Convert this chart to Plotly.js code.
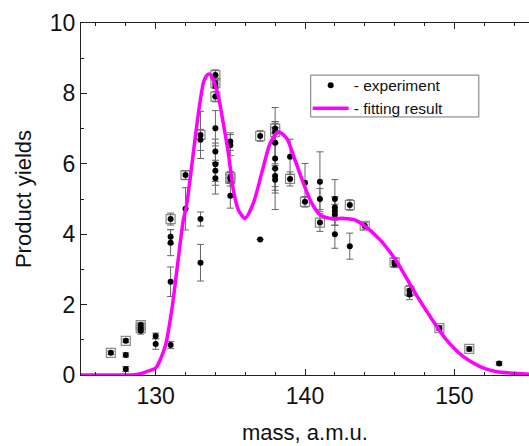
<!DOCTYPE html>
<html>
<head>
<meta charset="utf-8">
<script src="https://cdn.plot.ly/plotly-3.0.1.min.js"></script>
<style>html,body{margin:0;padding:0;background:#fff;}#chart{width:529px;height:446px;}</style>
</head>
<body>
<div id="chart"></div>
<script>
// experimental points: mass, yield, error
const expMass = [127,128,128,128,129,129,129,130,130,131,131,131,131,131,132,132,133,133,133,133,
  134,134,134,134,134,134,134,134,134,135,135,135,135,135,137,137,138,138,138,138,138,138,138,
  139,139,140,140,141,141,141,142,142,142,142,142,143,143,144,146,146,147,147,149,151,153];
const expYield = [0.63,0.97,0.57,0.17,1.42,1.33,1.26,1.11,0.88,4.43,3.93,3.76,2.65,0.85,5.68,4.72,6.82,6.68,4.43,3.19,
  8.52,8.29,8.21,7.91,7.01,6.35,5.99,5.80,5.59,6.63,6.53,5.62,5.57,5.09,6.79,3.85,7.0,6.9,6.6,6.15,5.87,5.65,5.55,
  6.2,5.57,5.46,4.92,5.49,5.0,4.33,5.0,4.76,4.66,4.55,4.0,4.83,3.66,4.24,3.2,3.15,2.39,2.29,1.33,0.74,0.33];
const expErr = [0.05,0.05,0.06,0.07,0.08,0.08,0.1,0.08,0.15,0.17,0.2,0.37,0.42,0.1,0.12,0.6,0.67,0.3,0.2,0.52,
  0.15,0.15,0.3,0.15,0.5,0.35,0.6,0.3,0.45,0.25,0.3,0.15,0.2,0.35,0.15,0,0.15,0.3,0.6,1.45,0.7,0.3,0.3,
  0.5,0.2,0.55,0.15,0.85,0.3,0.25,0.55,0.3,0.4,0.3,0.4,0.15,0.37,0.1,0.12,0.1,0.15,0.15,0.07,0.06,0.05];
// points drawn with an open square around them
const boxMass = [127,128,129,129,131,132,133,134,134,134,135,135,137,138,138,139,140,141,143,144,146,147,149,151];
const boxYield = [0.63,0.97,1.42,1.33,4.43,5.68,6.82,8.52,8.29,7.91,5.62,5.57,6.79,7.0,6.9,5.57,4.92,4.33,4.83,4.24,3.2,2.39,1.33,0.74];
// fitting curve
const fitMass = [125,127,128,128.6,129.0,129.4,130.0,130.63,131.08,131.45,131.85,132.08,132.52,132.86,133.19,133.4,133.6,133.86,
  134.2,134.53,134.87,135.2,135.54,135.98,136.54,137.1,137.66,138.21,138.78,139.33,139.89,140.45,141.01,141.68,142.57,
  143.24,143.91,145.03,146.15,147.26,148.38,149.49,150.61,151.72,152.84,153.96,155];
const fitYield = [0,0,0,0.01,0.04,0.1,0.2,0.8,1.85,3.08,4.4,4.85,6.3,7.43,8.29,8.5,8.55,8.38,
  7.91,7.15,6.3,5.26,4.69,4.45,4.88,5.73,6.58,6.91,6.72,6.11,5.45,4.88,4.55,4.45,4.45,
  4.42,4.26,3.84,3.22,2.41,1.66,0.99,0.52,0.24,0.09,0.05,0.02];

const FONT = 'Arial, Liberation Sans, sans-serif';
const traces = [
  {x: boxMass, y: boxYield, type:'scatter', mode:'markers', showlegend:false, hoverinfo:'skip',
   marker:{symbol:'square-open', size:9, color:'#8a8a8a', line:{width:1.2, color:'#8a8a8a'}}},
  {x: expMass, y: expYield, type:'scatter', mode:'markers', name:'- experiment',
   error_y:{type:'data', array: expErr, visible:true, color:'#666', thickness:1, width:3.5},
   marker:{symbol:'circle', size:6, color:'#000'}},
  {x: fitMass, y: fitYield, type:'scatter', mode:'lines', name:'- fitting result',
   line:{color:'#ff00ff', width:3.5, shape:'spline', smoothing:0.7}}
];

const axisCommon = {
  showline:true, linecolor:'#222', linewidth:1, ticks:'inside', ticklen:6,
  tickcolor:'#222', showgrid:false, zeroline:false,
  tickfont:{family:FONT, size:23, color:'#111'}
};

const layout = {
  width:529, height:446,
  margin:{l:81, r:0, t:23, b:71},
  paper_bgcolor:'#fff', plot_bgcolor:'#fff',
  font:{family:FONT, color:'#111'},
  xaxis: Object.assign({}, axisCommon, {mirror:'allticks', range:[125,155], tickvals:[130,140,150], ticktext:['130','140','150'],
    minor:{dtick:2, tick0:0, ticks:'inside', ticklen:3, tickcolor:'#222'},
    title:{text:'mass, a.m.u.', font:{size:22, family:FONT}, standoff:17}}),
  yaxis: Object.assign({}, axisCommon, {mirror:false, range:[0,10], dtick:2, tick0:0,
    minor:{dtick:1, ticks:'inside', ticklen:3, tickcolor:'#222'},
    title:{text:'Product yields', font:{size:22, family:FONT}, standoff:12}}),
  legend:{x:0.506, y:0.8705, xanchor:'left', yanchor:'top', borderwidth:0,
    bgcolor:'rgba(0,0,0,0)', font:{size:15.5, family:FONT, color:'#111'},
    tracegroupgap:0, itemwidth:36},
  shapes:[{type:'rect', xref:'paper', yref:'paper', x0:0.5127, x1:0.888, y0:0.733, y1:0.852,
    line:{color:'#777', width:1}, fillcolor:'rgba(255,255,255,1)', layer:'below'}]
};

Plotly.newPlot('chart', traces, layout, {displayModeBar:false, staticPlot:true});
</script>
</body>
</html>
